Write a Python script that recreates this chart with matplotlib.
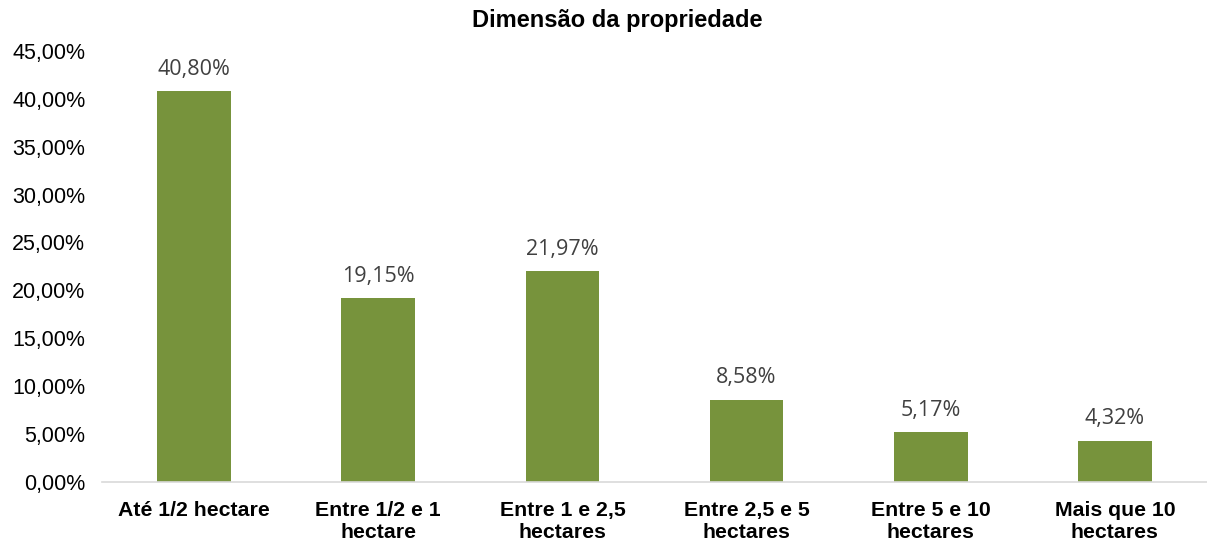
import matplotlib
matplotlib.use("Agg")
import matplotlib.pyplot as plt

# --- Data -----------------------------------------------------------------
categories = ["Até 1/2 hectare", "Entre 1/2 e 1\nhectare", "Entre 1 e 2,5\nhectares",
              "Entre 2,5 e 5\nhectares", "Entre 5 e 10\nhectares", "Mais que 10\nhectares"]
values = [40.80, 19.15, 21.97, 8.58, 5.17, 4.32]
yticks = [0, 5, 10, 15, 20, 25, 30, 35, 40, 45]

BAR = "#77933C"


def pct(v):
    return f"{v:.2f}%".replace(".", ",")


fig = plt.figure(figsize=(12.07, 5.44), dpi=100)
ax = fig.add_axes([0.0845, 0.114, 0.9155, 0.7926])

x = range(len(categories))
ax.bar(x, values, width=0.4, color=BAR, zorder=2)

# value labels above each bar
for xi, v in zip(x, values):
    ax.text(xi, v + 1.2, pct(v), ha="center", va="bottom", fontsize=15.5,
            color="#404040", family="Open Sans")

ax.set_xlim(-0.5, len(categories) - 0.5)
ax.set_ylim(0, 45)
ax.set_yticks(yticks)
ax.set_yticklabels([pct(t) for t in yticks], fontsize=15.5, family="Liberation Sans")
ax.set_xticks(list(x))
ax.set_xticklabels(categories, fontsize=15.3, fontweight="bold", family="Liberation Sans",
                   linespacing=1.15)
ax.tick_params(axis="x", length=0, pad=14)
ax.tick_params(axis="y", length=0, pad=12)

for s in ["top", "right", "left"]:
    ax.spines[s].set_visible(False)
ax.spines["bottom"].set_color("#d9d9d9")
ax.spines["bottom"].set_linewidth(1.2)

fig.text(0.511, 0.962, "Dimensão da propriedade", ha="center", va="center",
         fontsize=17, fontweight="bold", family="Liberation Sans")

fig.savefig("out.png", dpi=100)
